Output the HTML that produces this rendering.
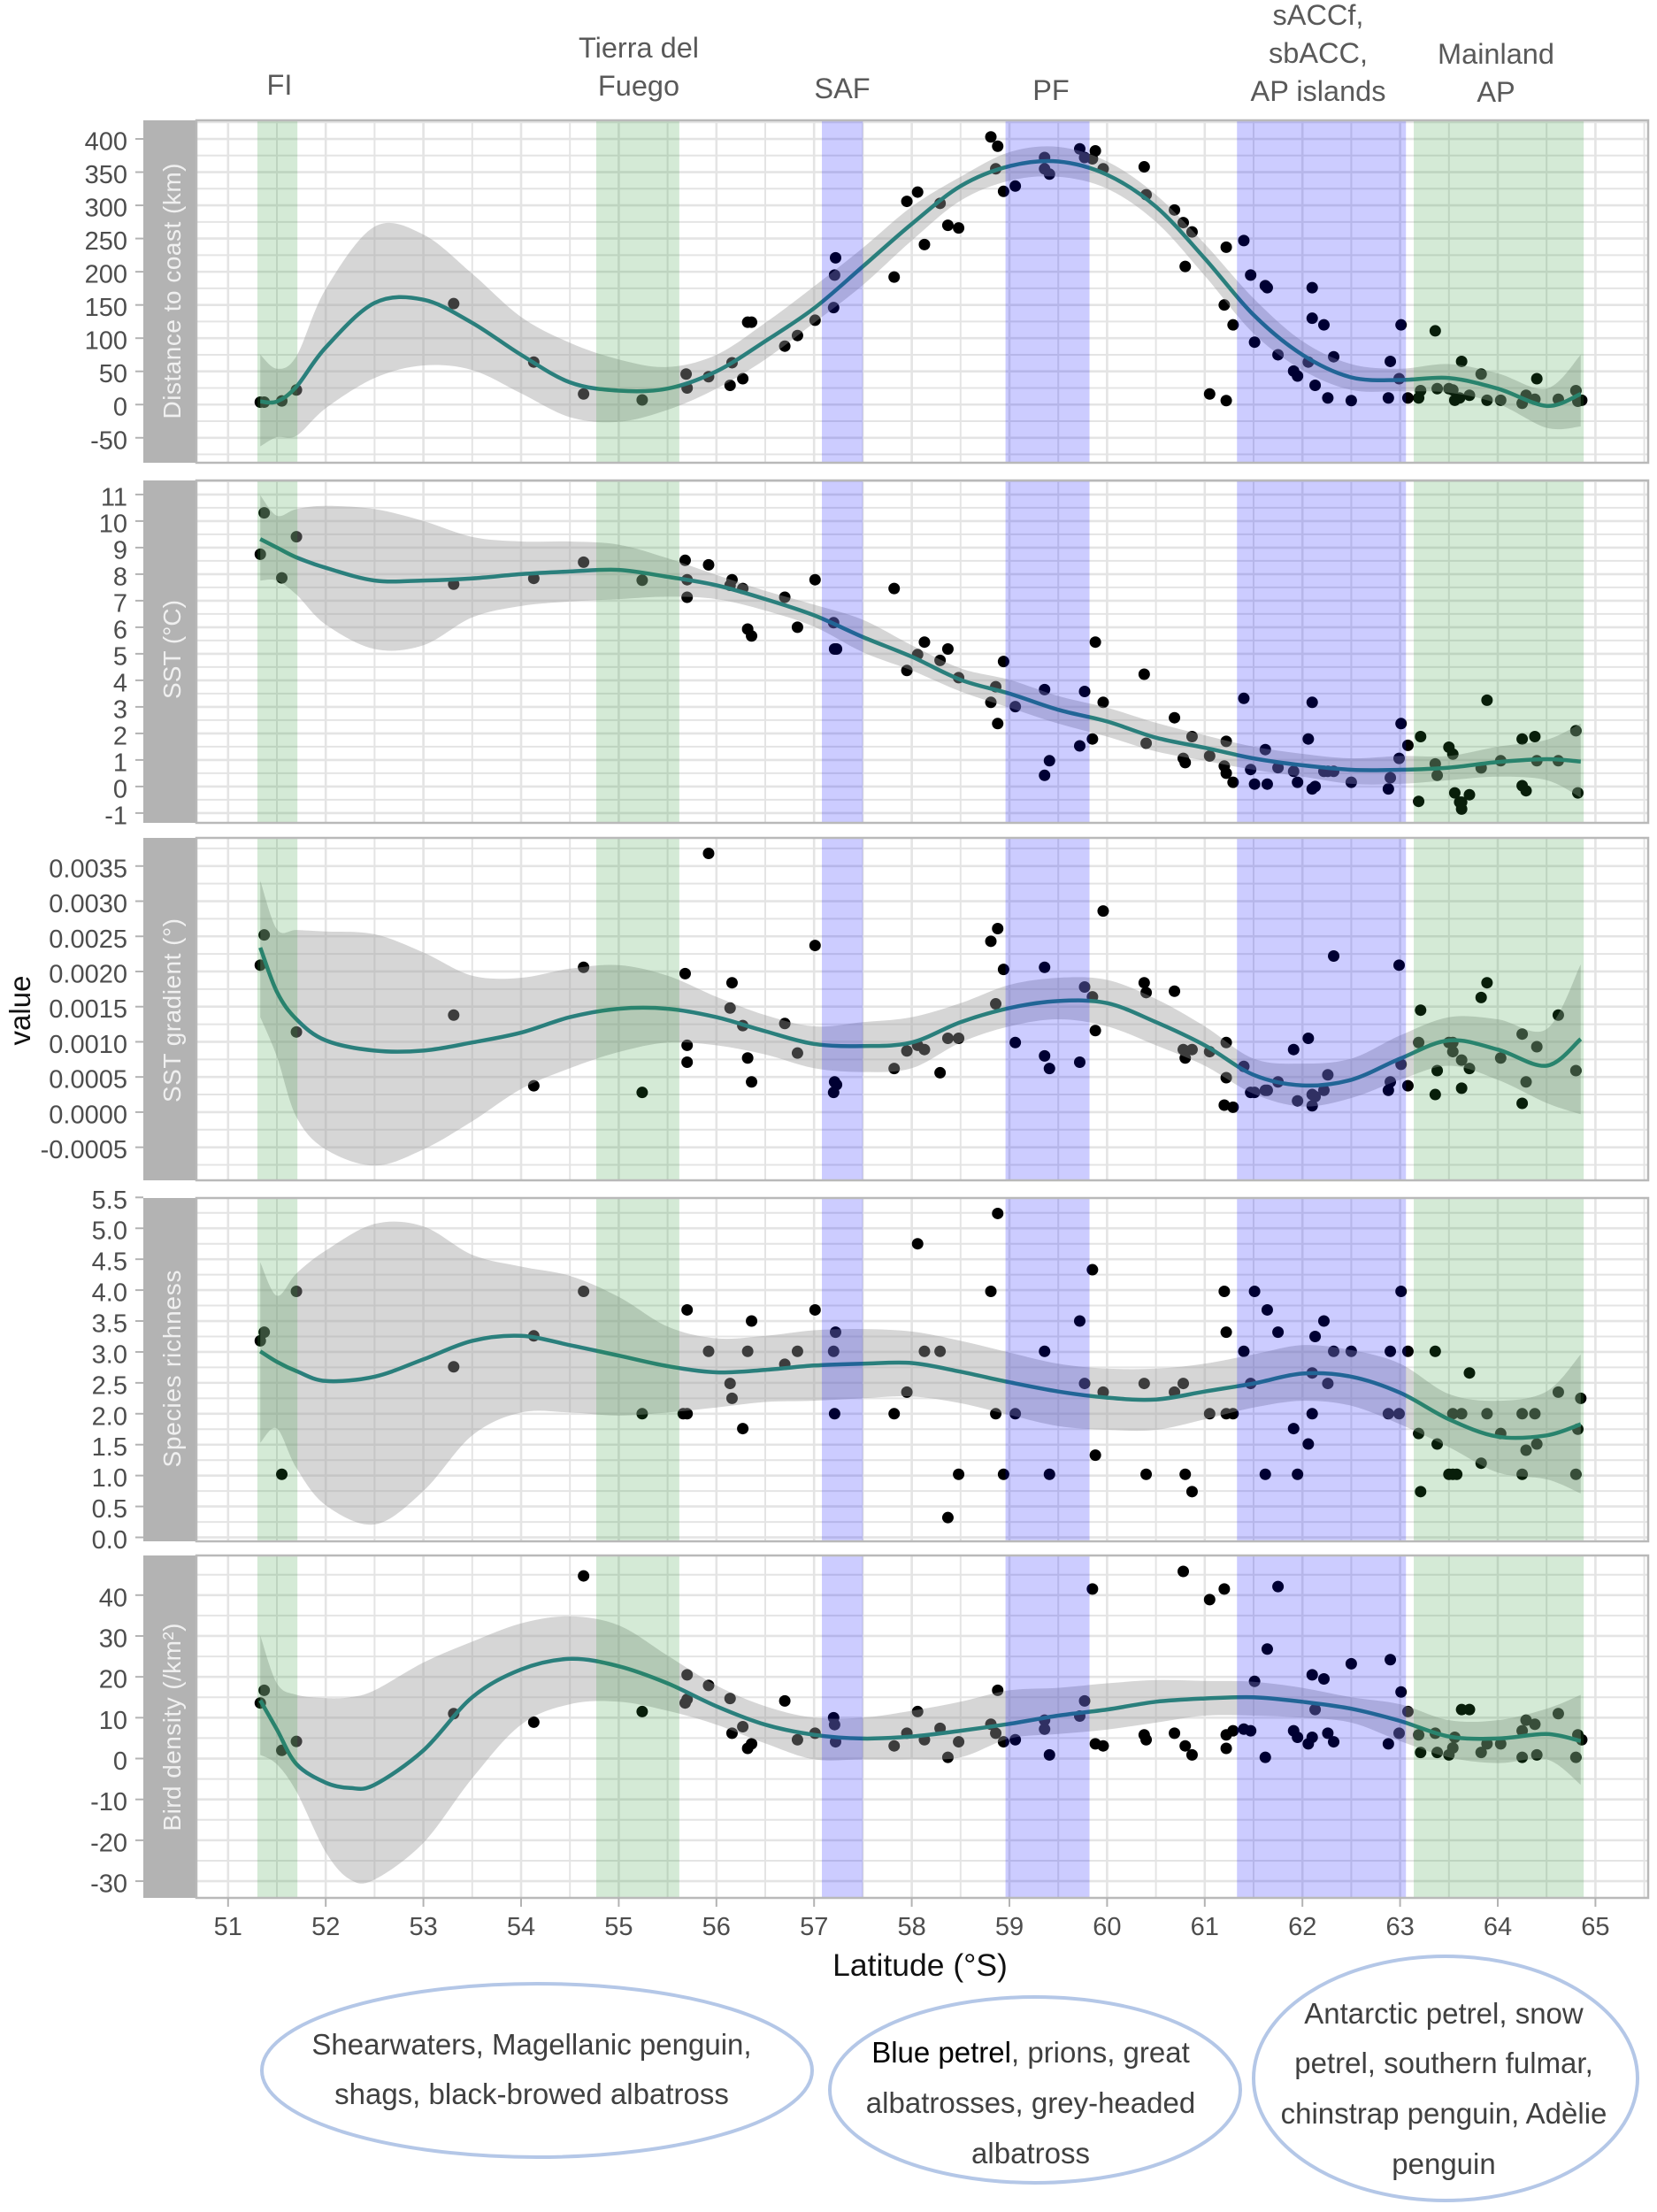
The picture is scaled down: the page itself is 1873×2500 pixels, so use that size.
<!DOCTYPE html>
<html lang="en">
<head>
<meta charset="utf-8">
<title>Latitude transects</title>
<style>
html,body{margin:0;padding:0;background:#fff;}
svg{display:block;font-family:"Liberation Sans",Arial,sans-serif;}
.top{font-size:32.5px;fill:#595959;text-anchor:middle;}
.strip{font-size:28px;fill:#f0f0f0;text-anchor:middle;}
.oval{font-size:33px;fill:#404040;text-anchor:middle;}
</style>
</head>
<body>
<svg id="chart" xmlns="http://www.w3.org/2000/svg" width="1873" height="2500" viewBox="0 0 1873 2500">
<rect x="0" y="0" width="1873" height="2500" fill="#ffffff"/>
<g id="plots"></g>

<g>
<text class="top" x="316" y="107">FI</text>
<text class="top" x="722" y="65"><tspan x="722" y="65">Tierra del</tspan><tspan x="722" y="108">Fuego</tspan></text>
<text class="top" x="952" y="111">SAF</text>
<text class="top" x="1188" y="113">PF</text>
<text class="top" x="1490" y="28"><tspan x="1490" y="28">sACCf,</tspan><tspan x="1490" y="71">sbACC,</tspan><tspan x="1490" y="114">AP islands</tspan></text>
<text class="top" x="1691" y="72"><tspan x="1691" y="72">Mainland</tspan><tspan x="1691" y="115">AP</tspan></text>
</g>

<g>
<text class="strip" transform="translate(204,329) rotate(-90)" textLength="289">Distance to coast (km)</text>
<text class="strip" transform="translate(204,734) rotate(-90)" textLength="112">SST (°C)</text>
<text class="strip" transform="translate(204,1142) rotate(-90)" textLength="208">SST gradient (°)</text>
<text class="strip" transform="translate(204,1547) rotate(-90)" textLength="223">Species richness</text>
<text class="strip" transform="translate(204,1952) rotate(-90)" textLength="235">Bird density (/km²)</text>
</g>

<text transform="translate(34,1142) rotate(-90)" font-size="33" fill="#111111" text-anchor="middle">value</text>
<text x="1040" y="2233" font-size="35.5" fill="#111111" text-anchor="middle">Latitude (°S)</text>

<g>
<ellipse cx="607" cy="2340" rx="311" ry="98" fill="none" stroke="#b4c7e7" stroke-width="4"/>
<text class="oval"><tspan x="601" y="2322">Shearwaters, Magellanic penguin,</tspan><tspan x="601" y="2378">shags, black-browed albatross</tspan></text>
<ellipse cx="1170" cy="2362" rx="232" ry="105" fill="none" stroke="#b4c7e7" stroke-width="4"/>
<text class="oval"><tspan x="1165" y="2331"><tspan fill="#000000">Blue petrel</tspan>, prions, great</tspan><tspan x="1165" y="2388">albatrosses, grey-headed</tspan><tspan x="1165" y="2445">albatross</tspan></text>
<ellipse cx="1634" cy="2349" rx="217" ry="138" fill="none" stroke="#b4c7e7" stroke-width="4"/>
<text class="oval"><tspan x="1632" y="2287">Antarctic petrel, snow</tspan><tspan x="1632" y="2343">petrel, southern fulmar,</tspan><tspan x="1632" y="2400">chinstrap penguin, Adèlie</tspan><tspan x="1632" y="2457">penguin</tspan></text>
</g>
</svg>

<script>
const latitudeTicks = [51,52,53,54,55,56,57,58,59,60,61,62,63,64,65];
const bandStart = [51.30,54.77,57.08,58.96,61.33,63.14];
const bandEnd = [51.71,55.62,57.50,59.82,63.06,64.88];
const bandKind = ['green','green','blue','blue','blue','green'];

const curveLat = [51.33,51.5,51.7,52,52.5,53,53.5,54,54.5,55,55.5,56,56.5,57,57.5,58,58.5,59,59.5,60,60.5,61,61.5,62,62.5,63,63.5,64,64.5,64.85];
const birdCurveLat = [51.33,51.5,51.7,52,52.25,52.5,53,53.5,54,54.5,55,55.5,56,56.5,57,57.5,58,58.5,59,59.5,60,60.5,61,61.5,62,62.5,63,63.5,64,64.5,64.85];

/* Distance to coast (km) */
const distTicks = [400,350,300,250,200,150,100,50,0,-50];
const distLat = [51.33,51.37,51.55,51.70,53.31,54.13,54.64,55.24,55.69,55.70,55.92,56.14,56.16,56.27,56.32,56.36,56.70,56.83,57.01,57.20,57.21,57.22,57.82,57.95,58.06,58.13,58.29,58.37,58.48,58.81,58.88,58.86,58.94,59.06,59.36,59.36,59.41,59.72,59.77,59.85,59.88,59.96,60.38,60.40,60.69,60.78,60.87,60.80,61.22,61.20,61.29,61.05,61.22,61.40,61.47,61.62,61.64,61.51,61.75,61.91,61.95,62.06,62.10,62.10,62.22,62.13,62.26,62.32,62.50,62.88,62.90,62.99,63.01,63.08,63.19,63.21,63.36,63.38,63.50,63.54,63.56,63.61,63.63,63.71,63.83,63.89,64.03,64.25,64.29,64.38,64.40,64.62,64.80,64.82,64.86];
const distVal = [3.7,3.7,5.5,22,152,64,16,7,46,25,42,29,63,39,124,124,88,104,127,146,195,221,192,306,320,241,303,270,266,403,389,355,321,329,372,355,347,385,372,370,382,355,358,316,293,274,260,208,237,150,120,16,6,247,195,179,176,94,75,50.5,43,64,176,130,120,29,10,72,6,10,65,39,120,10,10,21,111,24,24,22,6.5,10,65,14,46,6.5,6.5,2,14,8,39,8,21,5,6.5];
const distMean = [4.6,4.6,27,86,153,158,123,75,33.5,21,24,50,95.5,145,208,272,329,359,366,346,298,220,135,75,41,37,40,24,-2,16];
const distUpper = [75,54,73,174,268,256,197,132,93,68,56.5,75,123,178,236,298,343,380,388,366,316,242,160,95.5,61,54,61,47,24,75];
const distLower = [-63,-49,-47,-5.5,40,59,52,17,-19,-26,-8,24,68,123,180,247,307,337,343,325,275,194,107,52,22,20,18,1.4,-35,-33];

/* SST */
const sstTicks = [11,10,9,8,7,6,5,4,3,2,1,0,-1];
const sstLat = [51.33,51.37,51.55,51.70,53.31,54.13,54.64,55.24,55.68,55.70,55.70,55.92,56.14,56.16,56.27,56.32,56.36,56.70,56.83,57.01,57.20,57.21,57.23,57.82,57.95,58.06,58.13,58.29,58.37,58.48,58.81,58.86,58.88,58.94,59.06,59.36,59.36,59.41,59.72,59.77,59.85,59.88,59.96,60.38,60.40,60.69,60.78,60.80,60.87,61.05,61.20,61.22,61.22,61.29,61.40,61.47,61.51,61.62,61.64,61.75,61.91,61.95,62.06,62.10,62.10,62.13,62.22,62.26,62.32,62.50,62.88,62.90,62.99,63.01,63.08,63.19,63.21,63.36,63.38,63.50,63.54,63.56,63.61,63.63,63.63,63.71,63.83,63.89,64.03,64.25,64.25,64.29,64.38,64.40,64.62,64.80,64.82];
const sstVal = [8.75,10.31,7.86,9.41,7.62,7.84,8.45,7.77,8.52,7.79,7.13,8.35,7.58,7.79,7.46,5.93,5.67,7.13,6.0,7.79,6.17,5.18,5.18,7.46,4.37,4.97,5.44,4.75,5.18,4.10,3.17,3.76,2.37,4.71,3.01,3.65,0.42,0.97,1.53,3.58,1.79,5.44,3.17,4.23,1.63,2.59,1.06,0.90,1.88,1.15,0.77,1.70,0.50,0.16,3.32,0.64,0.09,1.39,0.09,0.71,0.57,0.16,1.79,3.17,-0.09,0,0.57,0.57,0.57,0.16,-0.09,0.33,1.06,2.37,1.55,-0.56,1.88,0.85,0.42,1.48,1.22,-0.24,-0.59,-0.85,-0.59,-0.31,0.70,3.25,0.97,1.79,0.03,-0.16,1.88,0.97,0.97,2.10,-0.24];
const sstMean = [9.32,9.0,8.63,8.24,7.76,7.76,7.84,8.0,8.1,8.16,7.9,7.58,7.06,6.45,5.63,4.89,4.02,3.5,2.89,2.45,1.84,1.46,1.06,0.8,0.63,0.63,0.71,0.92,1.03,0.94];
const sstUpper = [10.97,10.2,10.45,10.57,10.45,10,9.4,9.23,9.23,9.11,8.6,7.97,7.37,6.85,6.28,5.32,4.45,4.02,3.41,2.97,2.4,1.93,1.5,1.23,1.06,1.15,1.15,1.5,1.76,2.37];
const sstLower = [7.76,7.76,7.23,6.1,5.18,5.32,6.37,6.8,6.97,7.06,7.15,7.06,6.63,6.02,5.06,4.37,3.58,2.97,2.37,1.88,1.32,0.97,0.63,0.37,0.10,0.10,0.24,0.37,0.24,-0.42];

/* SST gradient, stored as plain degrees */
const gradTicks = [0.0035,0.0030,0.0025,0.0020,0.0015,0.0010,0.0005,0,-0.0005];
const gradLat = [51.33,51.37,51.70,53.31,54.13,54.64,55.24,55.68,55.70,55.70,55.92,56.14,56.16,56.27,56.32,56.36,56.70,56.83,57.01,57.20,57.21,57.23,57.82,57.95,58.06,58.13,58.29,58.37,58.48,58.81,58.86,58.88,58.94,59.06,59.36,59.36,59.41,59.72,59.77,59.85,59.88,59.96,60.38,60.40,60.69,60.78,60.80,60.87,61.05,61.20,61.22,61.22,61.29,61.40,61.47,61.51,61.62,61.64,61.75,61.91,61.95,62.06,62.10,62.10,62.13,62.22,62.26,62.32,62.88,62.90,62.99,63.01,63.08,63.19,63.21,63.36,63.38,63.50,63.54,63.54,63.63,63.63,63.71,63.83,63.89,64.03,64.25,64.25,64.29,64.40,64.62,64.80];
const gradVal = [0.00209,0.00252,0.00114,0.00138,0.000375,0.00206,0.00028,0.00197,0.00095,0.00071,0.00368,0.00148,0.00184,0.00123,0.00077,0.00043,0.00126,0.00084,0.00237,0.00028,0.00043,0.00039,0.00062,0.00087,0.00095,0.00089,0.00056,0.00105,0.00105,0.00243,0.00154,0.00261,0.00203,0.00099,0.00206,0.00080,0.00062,0.00071,0.00178,0.00164,0.00116,0.00286,0.00184,0.00170,0.00172,0.00089,0.00077,0.00089,0.00086,0.00010,0.00099,0.00049,0.00007,0.00065,0.00028,0.00028,0.00031,0.00031,0.00043,0.00089,0.00016,0.00105,0.00025,0.00009,0.00022,0.00031,0.00053,0.00222,0.00031,0.00043,0.00209,0.00068,0.000375,0.00099,0.00145,0.00025,0.00059,0.00099,0.00099,0.00086,0.00074,0.00034,0.00062,0.00163,0.00184,0.00077,0.00111,0.000125,0.00043,0.00093,0.00138,0.00059];
const gradMean = [0.00234,0.00171,0.00132,0.00102,0.000875,0.000875,0.00099,0.00113,0.00135,0.00147,0.00147,0.00135,0.00115,0.00097,0.00094,0.00099,0.00128,0.00148,0.00158,0.00155,0.00128,0.00095,0.00053,0.00038,0.00046,0.00076,0.00102,0.00089,0.00066,0.00104];
const gradUpper = [0.00329,0.0026,0.00259,0.00257,0.00253,0.00227,0.00194,0.00191,0.00204,0.00209,0.00194,0.00164,0.00138,0.00122,0.00128,0.00135,0.00155,0.00181,0.00191,0.00188,0.00161,0.00122,0.00076,0.00069,0.00076,0.00109,0.00135,0.00132,0.00118,0.0021];
const gradLower = [0.00135,0.00079,-0.00007,-0.00053,-0.00076,-0.00053,-0.00013,0.00033,0.000625,0.000855,0.00099,0.00095,0.00082,0.000625,0.00057,0.000625,0.00099,0.00122,0.00132,0.00122,0.00095,0.00066,0.00026,0.00008,0.0002,0.00046,0.00066,0.00046,0.00013,-0.00003];

/* Species richness */
const richTicks = [5.5,5.0,4.5,4.0,3.5,3.0,2.5,2.0,1.5,1.0,0.5,0.0];
const richLat = [51.33,51.37,51.55,51.70,53.31,54.13,54.64,55.24,55.66,55.70,55.70,55.92,56.14,56.16,56.27,56.32,56.36,56.70,56.83,57.01,57.20,57.21,57.22,57.82,57.95,58.06,58.13,58.29,58.37,58.48,58.81,58.86,58.88,58.94,59.06,59.36,59.41,59.72,59.77,59.85,59.88,59.96,60.38,60.40,60.69,60.78,60.80,60.87,61.05,61.20,61.22,61.22,61.29,61.40,61.47,61.51,61.62,61.64,61.75,61.91,61.95,62.06,62.10,62.10,62.13,62.22,62.26,62.32,62.50,62.88,62.90,62.99,63.01,63.08,63.19,63.21,63.36,63.38,63.50,63.54,63.58,63.54,63.63,63.71,63.83,63.89,64.03,64.25,64.25,64.29,64.38,64.40,64.62,64.80,64.82,64.85];
const richVal = [3.18,3.32,1.02,3.98,2.76,3.26,3.98,2.0,2.0,2.0,3.68,3.01,2.49,2.25,1.76,3.01,3.50,2.80,3.01,3.68,3.01,2.0,3.32,2.0,2.35,4.75,3.01,3.01,0.32,1.02,3.98,2.0,5.24,1.02,2.0,3.01,1.02,3.50,2.49,4.33,1.33,2.35,2.49,1.02,2.35,2.49,1.02,0.74,2.0,3.98,3.32,2.0,2.0,3.01,2.49,3.98,1.02,3.68,3.32,1.76,1.02,1.51,2.66,2.0,3.25,3.50,2.49,3.01,3.01,2.0,3.01,2.0,3.98,3.01,1.68,0.74,3.01,1.51,1.02,1.02,1.02,2.0,2.0,2.66,1.20,2.0,1.68,2.0,1.02,1.41,2.0,1.51,2.35,1.02,1.75,2.25];
const richMean = [3.01,2.84,2.69,2.53,2.60,2.88,3.18,3.26,3.11,2.94,2.77,2.67,2.71,2.78,2.81,2.82,2.68,2.51,2.36,2.26,2.23,2.36,2.49,2.65,2.6,2.34,1.91,1.63,1.65,1.83];
const richUpper = [4.45,3.91,4.27,4.64,5.07,5.03,4.57,4.38,4.23,3.89,3.41,3.22,3.26,3.35,3.37,3.33,3.18,2.99,2.81,2.73,2.73,2.81,2.96,3.11,3.03,2.81,2.32,2.21,2.36,2.96];
const richLower = [1.53,1.76,1.12,0.52,0.21,0.75,1.65,2.02,2.02,1.97,2.02,2.1,2.19,2.21,2.25,2.28,2.17,1.98,1.80,1.74,1.74,1.91,2.1,2.21,2.13,1.83,1.46,1.05,0.94,0.71];

/* Bird density */
const birdTicks = [40,30,20,10,0,-10,-20,-30];
const birdLat = [51.33,51.37,51.55,51.70,53.31,54.13,54.64,55.24,55.68,55.70,55.70,55.92,56.14,56.16,56.27,56.32,56.36,56.70,56.83,57.01,57.20,57.21,57.22,57.82,57.95,58.06,58.13,58.29,58.37,58.48,58.81,58.86,58.88,58.94,59.06,59.36,59.36,59.41,59.72,59.77,59.85,59.88,59.96,60.38,60.40,60.69,60.78,60.80,60.87,61.05,61.20,61.22,61.22,61.29,61.40,61.47,61.51,61.62,61.64,61.75,61.91,61.95,62.06,62.10,62.10,62.13,62.22,62.26,62.32,62.50,62.88,62.90,62.99,63.01,63.08,63.19,63.21,63.36,63.38,63.50,63.54,63.56,63.63,63.71,63.83,63.89,64.03,64.25,64.25,64.29,64.38,64.40,64.62,64.80,64.82,64.86];
const birdVal = [13.6,16.7,2.0,4.2,11.0,8.9,44.7,11.5,13.6,14.5,20.5,17.9,14.7,6.2,7.8,2.5,3.6,14.1,4.6,6.2,10,8.3,4.1,3.1,6.2,11.5,4.6,7.4,0.3,4.1,8.4,6.2,16.7,4.1,4.6,9.4,7.2,0.9,10.4,14.1,41.5,3.6,3.1,5.8,4.6,6.2,45.8,3.1,0.9,38.9,41.5,5.8,2.5,6.8,7.2,6.8,18.9,0.3,26.8,42.1,6.8,5.2,3.6,20.5,5.2,12,19.5,6.2,4.1,23.2,3.6,24.2,6.2,16.3,11.5,5.8,1.5,6.2,1.5,0.9,2.6,5.2,12,12,1.5,3.6,3.6,6.8,0.3,9.4,8.4,0.9,11,0.3,5.8,4.6];
const birdMean = [14.25,7.1,-1.36,-5.9,-7.2,-6.4,2.0,15,21.8,24.4,22.6,18.4,12.8,8.3,5.8,4.9,5.4,6.8,8.5,10.5,12,13.9,14.7,15,13.9,12.2,9.2,5.4,4.9,6,4.3];
const birdUpper = [30.1,18.4,15.6,14.8,15,16.7,23.5,28.6,33.1,34.8,32.6,25.2,17.9,12.8,10,10,11.7,13.9,16.7,17.3,18.4,19.2,19,18.8,17.3,15,13.3,9.4,9.4,12.2,15.6];
const birdLower = [0.9,-1.4,-8.1,-22.9,-29.6,-29.6,-20.6,-4.8,8.3,13.3,13.9,11.7,8.3,3.7,-0.2,-0.2,-0.2,0.3,4.9,6,7.1,8.8,10.5,10.5,10,8.8,4.3,0.3,-1.1,-0.2,-6.4];

const SVG_NS = 'http://www.w3.org/2000/svg';
const plots = document.getElementById('plots');
const plotLeft = 222, plotRight = 1863;

function xScale(lat) { return 257.8 + (lat - 51) * 110.4; }
function makeYScale(domainMin, domainMax, top, bottom) {
  return function (v) { return bottom - (v - domainMin) / (domainMax - domainMin) * (bottom - top); };
}
function node(tag, parent) {
  const n = document.createElementNS(SVG_NS, tag);
  parent.appendChild(n);
  return n;
}
function smoothPath(px) {
  let d = 'M' + px[0][0].toFixed(1) + ',' + px[0][1].toFixed(1);
  for (let i = 0; i < px.length - 1; i++) {
    const p0 = px[Math.max(i - 1, 0)], p1 = px[i], p2 = px[i + 1], p3 = px[Math.min(i + 2, px.length - 1)];
    const c1x = p1[0] + (p2[0] - p0[0]) / 6, c1y = p1[1] + (p2[1] - p0[1]) / 6;
    const c2x = p2[0] - (p3[0] - p1[0]) / 6, c2y = p2[1] - (p3[1] - p1[1]) / 6;
    d += 'C' + c1x.toFixed(1) + ',' + c1y.toFixed(1) + ' ' + c2x.toFixed(1) + ',' + c2y.toFixed(1) + ' ' + p2[0].toFixed(1) + ',' + p2[1].toFixed(1);
  }
  return d;
}

function drawPanel(name, top, bottom, dMin, dMax, ticks, minorStep, decimals, lat, val, cLat, mean, upper, lower) {
  const y = makeYScale(dMin, dMax, top, bottom);
  const g = node('g', plots);
  
  

  const strip = node('rect', g);
  
  
  strip.setAttribute('x', 162);
  strip.setAttribute('y', top);
  strip.setAttribute('width', plotLeft - 162);
  strip.setAttribute('height', bottom - top);
  strip.setAttribute('fill', '#b3b3b3');

  /* horizontal grid: majors on ticks, minors halfway between */
  const first = Math.ceil(dMin / minorStep - 1e-6);
  const last = Math.floor(dMax / minorStep + 1e-6);
  for (let k = first; k <= last; k++) {
    const gy = y(k * minorStep);
    const h = node('line', g);
    
    
    h.setAttribute('x1', plotLeft);
    h.setAttribute('x2', plotRight);
    h.setAttribute('y1', gy);
    h.setAttribute('y2', gy);
    h.setAttribute('stroke', '#e4e4e4');
    h.setAttribute('stroke-width', k % 2 === 0 ? 2.6 : 2);
  }
  /* vertical grid */
  for (let k = 102; k <= 131; k++) {
    const gx = xScale(k / 2);
    if (gx < plotLeft || gx > plotRight) continue;
    const v = node('line', g);
    
    
    v.setAttribute('x1', gx);
    v.setAttribute('x2', gx);
    v.setAttribute('y1', top);
    v.setAttribute('y2', bottom);
    v.setAttribute('stroke', '#e4e4e4');
    v.setAttribute('stroke-width', k % 2 === 0 ? 2.6 : 2);
  }

  /* observations */
  for (let i = 0; i < lat.length; i++) {
    const dot = node('circle', g);
    
    
    dot.setAttribute('cx', xScale(lat[i]));
    dot.setAttribute('cy', y(val[i]));
    dot.setAttribute('r', 6.5);
    dot.setAttribute('fill', '#000000');
  }

  /* confidence ribbon */
  const upPx = cLat.map(function (c, i) { return [xScale(c), y(upper[i])]; });
  const loPx = cLat.map(function (c, i) { return [xScale(c), y(lower[i])]; }).reverse();
  const ribbon = node('path', g);
  
  
  ribbon.setAttribute('d', smoothPath(upPx) + 'L' + smoothPath(loPx).slice(1) + 'Z');
  ribbon.setAttribute('fill', 'rgb(153,153,153)');
  ribbon.setAttribute('fill-opacity', '0.4');

  /* smoother */
  const curve = node('path', g);
  
  
  curve.setAttribute('d', smoothPath(cLat.map(function (c, i) { return [xScale(c), y(mean[i])]; })));
  curve.setAttribute('fill', 'none');
  curve.setAttribute('stroke', '#2a7f7c');
  curve.setAttribute('stroke-width', 4.5);

  /* region bands on top of everything */
  for (let b = 0; b < bandStart.length; b++) {
    const band = node('rect', g);
    
    
    band.setAttribute('x', xScale(bandStart[b]));
    band.setAttribute('y', top);
    band.setAttribute('width', xScale(bandEnd[b]) - xScale(bandStart[b]));
    band.setAttribute('height', bottom - top);
    band.setAttribute('fill', bandKind[b] === 'blue' ? 'rgb(0,0,255)' : 'rgb(40,150,50)');
    band.setAttribute('fill-opacity', '0.2');
  }

  /* border */
  const border = node('rect', g);
  
  
  border.setAttribute('x', plotLeft);
  border.setAttribute('y', top);
  border.setAttribute('width', plotRight - plotLeft);
  border.setAttribute('height', bottom - top);
  border.setAttribute('fill', 'none');
  border.setAttribute('stroke', '#b9b9b9');
  border.setAttribute('stroke-width', 2.5);

  /* y ticks and labels */
  ticks.forEach(function (t) {
    const ty = y(t);
    const tick = node('line', g);
    
    
    tick.setAttribute('x1', 153);
    tick.setAttribute('x2', 162);
    tick.setAttribute('y1', ty);
    tick.setAttribute('y2', ty);
    tick.setAttribute('stroke', '#b3b3b3');
    tick.setAttribute('stroke-width', 2);
    const label = node('text', g);
    
    
    label.setAttribute('x', 144);
    label.setAttribute('y', ty + 12.5);
    label.setAttribute('font-size', 29);
    label.setAttribute('fill', '#4d4d4d');
    label.setAttribute('text-anchor', 'end');
    label.textContent = t.toFixed(decimals);
  });
}

drawPanel('distance', 136, 523, -87.6, 428, distTicks, 25, 0, distLat, distVal, curveLat, distMean, distUpper, distLower);
drawPanel('sst', 543, 930, -1.37, 11.53, sstTicks, 0.5, 0, sstLat, sstVal, curveLat, sstMean, sstUpper, sstLower);
drawPanel('sst-gradient', 947, 1334, -0.00097, 0.0039, gradTicks, 0.00025, 4, gradLat, gradVal, curveLat, gradMean, gradUpper, gradLower);
drawPanel('richness', 1354, 1742, -0.064, 5.49, richTicks, 0.25, 1, richLat, richVal, curveLat, richMean, richUpper, richLower);
drawPanel('bird-density', 1758, 2145, -34.1, 49.7, birdTicks, 5, 0, birdLat, birdVal, birdCurveLat, birdMean, birdUpper, birdLower);

/* shared x axis */
const xAxis = node('g', plots);


latitudeTicks.forEach(function (t) {
  const tx = xScale(t);
  const tick = node('line', xAxis);
  
  
  tick.setAttribute('x1', tx);
  tick.setAttribute('x2', tx);
  tick.setAttribute('y1', 2145);
  tick.setAttribute('y2', 2155);
  tick.setAttribute('stroke', '#b3b3b3');
  tick.setAttribute('stroke-width', 2);
  const label = node('text', xAxis);
  
  
  label.setAttribute('x', tx);
  label.setAttribute('y', 2187);
  label.setAttribute('font-size', 29);
  label.setAttribute('fill', '#4d4d4d');
  label.setAttribute('text-anchor', 'middle');
  label.textContent = String(t);
});
</script>
</body>
</html>
